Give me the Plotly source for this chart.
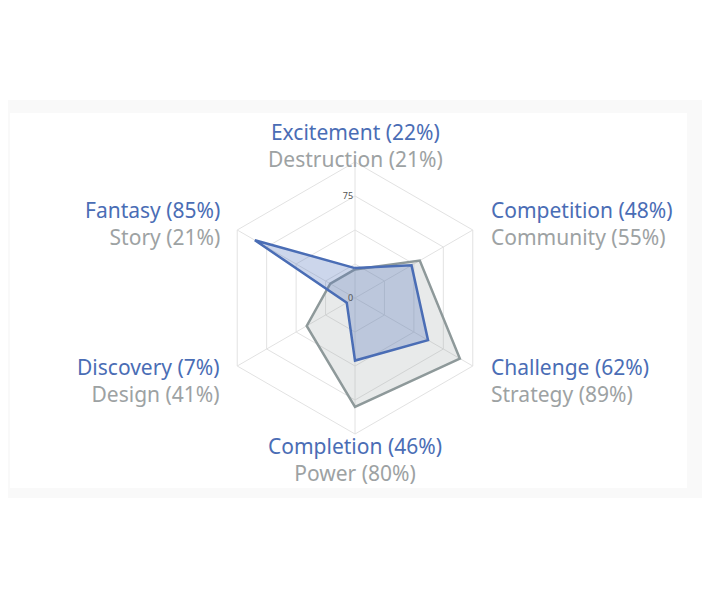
import numpy as np
import plotly.graph_objects as go

# page offset of the plot div (default body margin)
OFF = 8
W, H = 710 - OFF, 599 - OFF

# primary (blue) and secondary (gray) motivations
primary_names = ["Excitement", "Competition", "Challenge", "Completion", "Discovery", "Fantasy"]
primary_vals = [22, 48, 62, 46, 7, 85]
secondary_names = ["Destruction", "Community", "Strategy", "Power", "Design", "Story"]
secondary_vals = [21, 55, 89, 80, 41, 21]
radial_ticks = [0, 25, 50, 75, 100]
radial_labels = ["0", "", "", "75", ""]

BLUE = "#4a6db5"
GRAY_TXT = "#9da2a3"
GRAY_LINE = "#8e999a"


def px(x):
    return (x - OFF) / W


def py(y):
    return 1 - (y - OFF) / H


# polar centre / radius in page pixels
cx, cy, R = 355, 298, 136
dom_x = [px(cx - R), px(cx + R)]
dom_y = [py(cy + R), py(cy - R)]

theta = primary_names

fig = go.Figure()
fig.add_trace(go.Scatterpolar(
    r=secondary_vals + secondary_vals[:1], theta=theta + theta[:1],
    mode="lines", fill="toself", fillcolor="rgba(150,158,160,0.22)",
    line=dict(color=GRAY_LINE, width=2.5), showlegend=False, hoverinfo="skip"))
fig.add_trace(go.Scatterpolar(
    r=primary_vals + primary_vals[:1], theta=theta + theta[:1],
    mode="lines", fill="toself", fillcolor="rgba(85,120,190,0.30)",
    line=dict(color=BLUE, width=2.5), showlegend=False, hoverinfo="skip"))

# labels around the chart
annotations = []
d = 157
for i, (pn, pv, sn, sv) in enumerate(zip(primary_names, primary_vals, secondary_names, secondary_vals)):
    ang = np.deg2rad(90 - 60 * i)
    lx = cx + d * np.cos(ang)
    ly = cy + 4 - d * np.sin(ang)
    c = np.cos(ang)
    if c > 0.1:
        xa, shift = "left", -2
    elif c < -0.1:
        xa, shift = "right", 3
    else:
        xa, shift = "center", 0
    txt = (f"<span style='color:{BLUE}'>{pn} ({pv}%)</span><br>"
           f"<span style='color:{GRAY_TXT}'>{sn} ({sv}%)</span>")
    annotations.append(dict(x=px(lx), y=py(ly), xref="paper", yref="paper",
                            text=txt, showarrow=False, xanchor=xa, yanchor="middle",
                            xshift=shift, align=xa,
                            font=dict(size=21, family="Noto Sans")))

fig.update_layout(
    width=W, height=H,
    margin=dict(l=0, r=0, t=0, b=0),
    paper_bgcolor="white",
    font=dict(family="Noto Sans"),
    polar=dict(
        domain=dict(x=dom_x, y=dom_y),
        bgcolor="rgba(0,0,0,0)",
        gridshape="linear",
        angularaxis=dict(rotation=90, direction="clockwise", showticklabels=False,
                         ticks="", gridcolor="#e2e2e2", linecolor="#e2e2e2", linewidth=1),
        radialaxis=dict(range=[0, 100], tickvals=radial_ticks, ticktext=radial_labels,
                        angle=90, tickangle=90, side="counterclockwise",
                        showline=False, ticks="",
                        gridcolor="#e2e2e2", tickfont=dict(size=9, color="#555")),
    ),
    shapes=[
        dict(type="rect", xref="paper", yref="paper", x0=0, x1=1,
             y0=py(498), y1=py(100), fillcolor="#f9f9f9", line_width=0, layer="below"),
        dict(type="rect", xref="paper", yref="paper", x0=px(10), x1=px(687),
             y0=py(488), y1=py(113), fillcolor="white", line_width=0, layer="below"),
    ],
    annotations=annotations,
)

fig.write_html("out.html")
